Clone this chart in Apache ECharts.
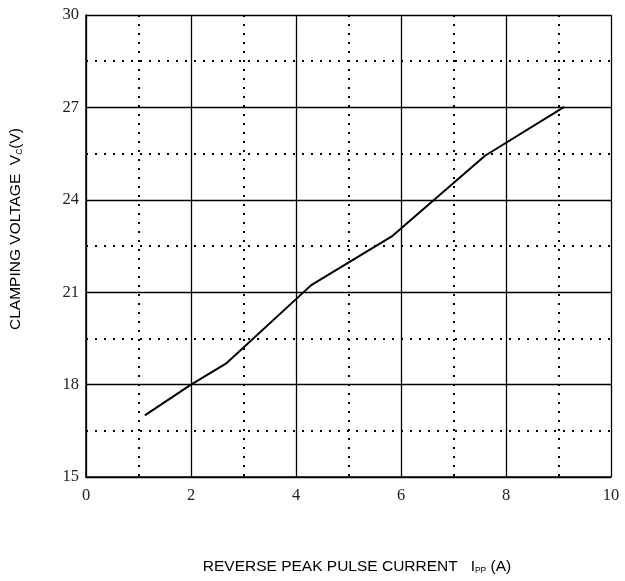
<!DOCTYPE html>
<html>
<head>
<meta charset="utf-8">
<script src="https://cdn.jsdelivr.net/npm/echarts@6/dist/echarts.min.js"></script>
<style>html,body{margin:0;padding:0;background:#fff}#c{width:625px;height:581px}</style>
</head>
<body>
<div id="c"></div>
<script>
var currentA = [1.12, 2.0, 2.68, 4.29, 5.84, 7.6, 9.11];
var clampV = [17.0, 18.0, 18.7, 21.23, 22.83, 25.43, 27.02];
var xTicks = [0, 2, 4, 6, 8, 10];
var yTicks = [15, 18, 21, 24, 27, 30];

var data = currentA.map(function (x, i) { return [x, clampV[i]]; });
var chart = echarts.init(document.getElementById('c'));
var tickFont = { fontFamily: 'Liberation Serif', fontSize: 16.5, color: '#222' };
var titleRich = {
  a: { fontFamily: 'Liberation Sans', fontSize: 15.5, color: '#000', verticalAlign: 'bottom', lineHeight: 20 },
  s: { fontFamily: 'Liberation Sans', fontSize: 8.5, color: '#000', verticalAlign: 'bottom', lineHeight: 14 }
};
chart.setOption({
  animation: false,
  grid: { left: 86, right: 14, top: 15, bottom: 104 },
  xAxis: {
    type: 'value', min: xTicks[0], max: xTicks[xTicks.length - 1], interval: 2,
    name: '{a|REVERSE PEAK PULSE CURRENT   I}{s|PP}{a| (A)}',
    nameLocation: 'middle', nameGap: 78,
    nameTextStyle: { rich: titleRich, padding: [0, 0, 0, 17] },
    axisLine: { lineStyle: { color: '#000', width: 1.5 } },
    axisTick: { show: false },
    axisLabel: Object.assign({ margin: 10 }, tickFont),
    splitLine: { show: true, lineStyle: { color: '#000', width: 1.3 } },
    minorTick: { show: false, splitNumber: 2 },
    minorSplitLine: { show: true, lineStyle: { color: '#000', width: 2, type: [2, 7] } }
  },
  yAxis: {
    type: 'value', min: yTicks[0], max: yTicks[yTicks.length - 1], interval: 3,
    name: '{a|CLAMPING VOLTAGE  V}{s|C}{a|(V)}',
    nameLocation: 'middle', nameGap: 62,
    nameTextStyle: { rich: titleRich, padding: [0, 0, 0, 34] },
    axisLine: { show: true, lineStyle: { color: '#000', width: 1.5 } },
    axisTick: { show: false },
    axisLabel: Object.assign({ margin: 7 }, tickFont),
    splitLine: { show: true, lineStyle: { color: '#000', width: 1.3 } },
    minorTick: { show: false, splitNumber: 2 },
    minorSplitLine: { show: true, lineStyle: { color: '#000', width: 2, type: [2, 7] } }
  },
  series: [{
    type: 'line', data: data, showSymbol: false,
    lineStyle: { color: '#000', width: 2 }
  }]
});
</script>
</body>
</html>
